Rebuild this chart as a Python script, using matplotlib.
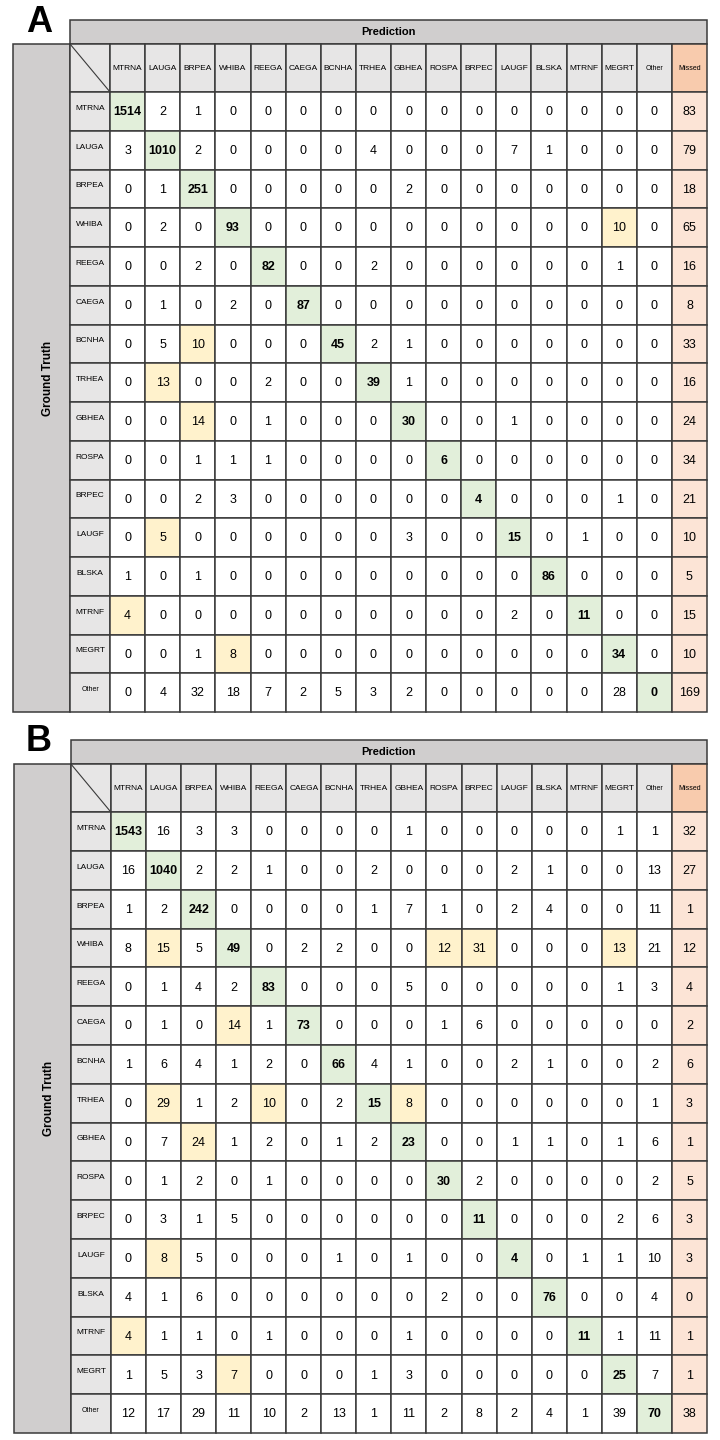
import matplotlib.pyplot as plt
from matplotlib.patches import Rectangle

plt.rcParams['font.family'] = ['Liberation Sans', 'DejaVu Sans']

# ---- data ----
species = ["MTRNA", "LAUGA", "BRPEA", "WHIBA", "REEGA", "CAEGA", "BCNHA", "TRHEA",
           "GBHEA", "ROSPA", "BRPEC", "LAUGF", "BLSKA", "MTRNF", "MEGRT"]
row_labels = species + ["Other"]
col_labels = species + ["Other", "Missed"]

counts_a = [
    [1514, 2, 1, 0, 0, 0, 0, 0, 0, 0, 0, 0, 0, 0, 0, 0, 83],
    [3, 1010, 2, 0, 0, 0, 0, 4, 0, 0, 0, 7, 1, 0, 0, 0, 79],
    [0, 1, 251, 0, 0, 0, 0, 0, 2, 0, 0, 0, 0, 0, 0, 0, 18],
    [0, 2, 0, 93, 0, 0, 0, 0, 0, 0, 0, 0, 0, 0, 10, 0, 65],
    [0, 0, 2, 0, 82, 0, 0, 2, 0, 0, 0, 0, 0, 0, 1, 0, 16],
    [0, 1, 0, 2, 0, 87, 0, 0, 0, 0, 0, 0, 0, 0, 0, 0, 8],
    [0, 5, 10, 0, 0, 0, 45, 2, 1, 0, 0, 0, 0, 0, 0, 0, 33],
    [0, 13, 0, 0, 2, 0, 0, 39, 1, 0, 0, 0, 0, 0, 0, 0, 16],
    [0, 0, 14, 0, 1, 0, 0, 0, 30, 0, 0, 1, 0, 0, 0, 0, 24],
    [0, 0, 1, 1, 1, 0, 0, 0, 0, 6, 0, 0, 0, 0, 0, 0, 34],
    [0, 0, 2, 3, 0, 0, 0, 0, 0, 0, 4, 0, 0, 0, 1, 0, 21],
    [0, 5, 0, 0, 0, 0, 0, 0, 3, 0, 0, 15, 0, 1, 0, 0, 10],
    [1, 0, 1, 0, 0, 0, 0, 0, 0, 0, 0, 0, 86, 0, 0, 0, 5],
    [4, 0, 0, 0, 0, 0, 0, 0, 0, 0, 0, 2, 0, 11, 0, 0, 15],
    [0, 0, 1, 8, 0, 0, 0, 0, 0, 0, 0, 0, 0, 0, 34, 0, 10],
    [0, 4, 32, 18, 7, 2, 5, 3, 2, 0, 0, 0, 0, 0, 28, 0, 169],
]

counts_b = [
    [1543, 16, 3, 3, 0, 0, 0, 0, 1, 0, 0, 0, 0, 0, 1, 1, 32],
    [16, 1040, 2, 2, 1, 0, 0, 2, 0, 0, 0, 2, 1, 0, 0, 13, 27],
    [1, 2, 242, 0, 0, 0, 0, 1, 7, 1, 0, 2, 4, 0, 0, 11, 1],
    [8, 15, 5, 49, 0, 2, 2, 0, 0, 12, 31, 0, 0, 0, 13, 21, 12],
    [0, 1, 4, 2, 83, 0, 0, 0, 5, 0, 0, 0, 0, 0, 1, 3, 4],
    [0, 1, 0, 14, 1, 73, 0, 0, 0, 1, 6, 0, 0, 0, 0, 0, 2],
    [1, 6, 4, 1, 2, 0, 66, 4, 1, 0, 0, 2, 1, 0, 0, 2, 6],
    [0, 29, 1, 2, 10, 0, 2, 15, 8, 0, 0, 0, 0, 0, 0, 1, 3],
    [0, 7, 24, 1, 2, 0, 1, 2, 23, 0, 0, 1, 1, 0, 1, 6, 1],
    [0, 1, 2, 0, 1, 0, 0, 0, 0, 30, 2, 0, 0, 0, 0, 2, 5],
    [0, 3, 1, 5, 0, 0, 0, 0, 0, 0, 11, 0, 0, 0, 2, 6, 3],
    [0, 8, 5, 0, 0, 0, 1, 0, 1, 0, 0, 4, 0, 1, 1, 10, 3],
    [4, 1, 6, 0, 0, 0, 0, 0, 0, 2, 0, 0, 76, 0, 0, 4, 0],
    [4, 1, 1, 0, 1, 0, 0, 0, 1, 0, 0, 0, 0, 11, 1, 11, 1],
    [1, 5, 3, 7, 0, 0, 0, 1, 3, 0, 0, 0, 0, 0, 25, 7, 1],
    [12, 17, 29, 11, 10, 2, 13, 1, 11, 2, 8, 2, 4, 1, 39, 70, 38],
]

# (ground truth, prediction) pairs marked as notable confusions
confused_a = [("WHIBA", "MEGRT"), ("BCNHA", "BRPEA"), ("TRHEA", "LAUGA"),
              ("GBHEA", "BRPEA"), ("LAUGF", "LAUGA"), ("MTRNF", "MTRNA"),
              ("MEGRT", "WHIBA")]
confused_b = [("WHIBA", "LAUGA"), ("WHIBA", "ROSPA"), ("WHIBA", "BRPEC"),
              ("WHIBA", "MEGRT"), ("CAEGA", "WHIBA"), ("TRHEA", "LAUGA"),
              ("TRHEA", "REEGA"), ("TRHEA", "GBHEA"), ("GBHEA", "BRPEA"),
              ("LAUGF", "LAUGA"), ("MTRNF", "MTRNA"), ("MEGRT", "WHIBA")]

# ---- style ----
GREEN = '#e2efda'
YELLOW = '#fff2cc'
PEACH = '#fce4d6'
PEACH_HEAD = '#f8cbad'
BAR = '#d0cece'
LABEL = '#e7e6e6'
LINE = '#3a3a3a'

# widths in cell units (cell ~35 px wide, ~38.75 px tall)
lab_w = 40 / 35.1
gt_w = 57 / 35.1
hdr_h = 48 / 38.75
pred_h = 24 / 38.75


def cell(ax, x, y, w, h, fc):
    ax.add_patch(Rectangle((x, y), w, h, facecolor=fc, edgecolor=LINE,
                           linewidth=1.1, clip_on=False))


def draw_panel(ax, counts, confused):
    n_r, n_c = len(row_labels), len(col_labels)
    ax.set_xlim(-lab_w - gt_w, n_c)
    ax.set_ylim(n_r, -hdr_h - pred_h)
    ax.axis('off')

    # top "Prediction" bar and left "Ground Truth" bar
    cell(ax, -lab_w, -hdr_h - pred_h, n_c + lab_w, pred_h, BAR)
    ax.text((n_c - lab_w) / 2, -hdr_h - pred_h / 2, "Prediction",
            ha='center', va='center', fontsize=8, fontweight='bold')
    cell(ax, -lab_w - gt_w, -hdr_h, gt_w, n_r + hdr_h, BAR)
    ax.text(-lab_w - gt_w / 2 + 0.18, (n_r - hdr_h) / 2, "Ground Truth",
            rotation=90, ha='center', va='center', fontsize=8.5,
            fontweight='bold')

    # corner cell with diagonal
    cell(ax, -lab_w, -hdr_h, lab_w, hdr_h, LABEL)
    ax.plot([-lab_w, 0], [-hdr_h, 0], color=LINE, lw=0.8, clip_on=False)

    for j, lab in enumerate(col_labels):
        cell(ax, j, -hdr_h, 1, hdr_h, PEACH_HEAD if lab == "Missed" else LABEL)
        fs = 5 if lab in ("Other", "Missed") else 6
        ax.text(j + 0.5, -hdr_h / 2, lab, ha='center', va='center', fontsize=fs)

    for i, rlab in enumerate(row_labels):
        cell(ax, -lab_w, i, lab_w, 1, LABEL)
        fs = 5 if rlab == "Other" else 6
        ax.text(-lab_w / 2, i + 0.42, rlab, ha='center', va='center', fontsize=fs)
        for j, clab in enumerate(col_labels):
            weight = 'normal'
            if clab == "Missed":
                fc = PEACH
            elif clab == rlab:
                fc = GREEN
                weight = 'bold'
            elif (rlab, clab) in confused:
                fc = YELLOW
            else:
                fc = 'white'
            cell(ax, j, i, 1, 1, fc)
            ax.text(j + 0.5, i + 0.52, str(counts[i][j]), ha='center',
                    va='center', fontsize=9, fontweight=weight)


fig = plt.figure(figsize=(7.2, 14.4), dpi=100)
W, H = 720, 1440

panels = [("A", counts_a, confused_a, 20, 712, 13),
          ("B", counts_b, confused_b, 740, 1433, 14)]
for letter, counts, confused, top, bottom, left in panels:
    ax = fig.add_axes([left / W, 1 - bottom / H, (707 - left) / W, (bottom - top) / H])
    draw_panel(ax, counts, confused)
    fig.text(26 / W, 1 - (top + 2) / H, letter, ha='left', va='center',
             fontsize=26, fontweight='bold')

fig.savefig("out.png", dpi=100, facecolor='white')
